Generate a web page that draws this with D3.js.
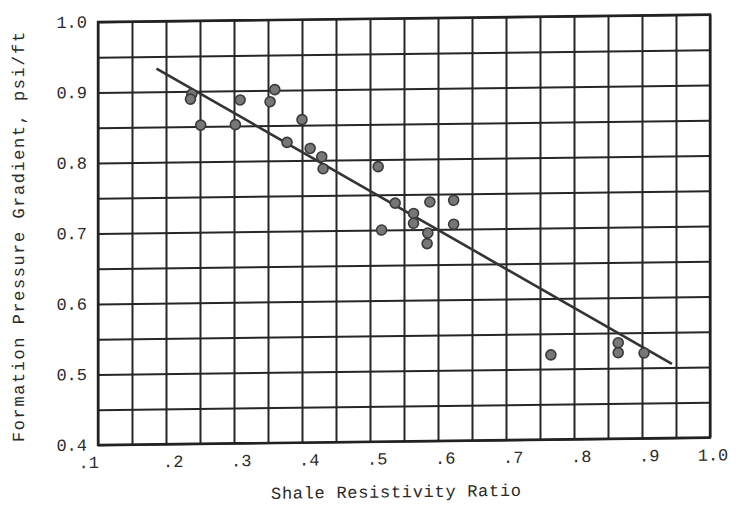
<!DOCTYPE html>
<html>
<head>
<meta charset="utf-8">
<script src="https://cdn.jsdelivr.net/npm/d3@7"></script>
<style>
  body { margin: 0; background: #fff; }
  text { font-family: "Liberation Mono", "DejaVu Sans Mono", monospace; fill: #2a2a2a; }
</style>
</head>
<body>
<div id="chart"></div>
<script>
// values
const ratio =    [0.238, 0.236, 0.251, 0.309, 0.302, 0.360, 0.353, 0.400, 0.378, 0.412, 0.429, 0.431,
                  0.512, 0.517, 0.537, 0.564, 0.564, 0.588, 0.585, 0.584, 0.623, 0.623,
                  0.766, 0.865, 0.865, 0.903];
const gradient = [0.896, 0.889, 0.852, 0.887, 0.852, 0.901, 0.884, 0.858, 0.826, 0.817, 0.805, 0.788,
                  0.790, 0.700, 0.738, 0.723, 0.709, 0.739, 0.695, 0.680, 0.741, 0.707,
                  0.520, 0.536, 0.522, 0.521];
const trendX = [0.186, 0.944];
const trendY = [0.933, 0.505];

const xTicks = [0.1, 0.2, 0.3, 0.4, 0.5, 0.6, 0.7, 0.8, 0.9, 1.0];
const xTickLabels = [".1", ".2", ".3", ".4", ".5", ".6", ".7", ".8", ".9", "1.0"];
const yTicks = [0.4, 0.5, 0.6, 0.7, 0.8, 0.9, 1.0];
const yTickLabels = ["0.4", "0.5", "0.6", "0.7", "0.8", "0.9", "1.0"];
const xGrid = d3.range(0.1, 1.0001, 0.05);
const yGrid = d3.range(0.4, 1.0001, 0.05);

const W = 747, H = 506;
const plotLeft = 98, plotRight = 710, plotTop = 22, plotBottom = 445;

const svg = d3.select("#chart").append("svg")
  .attr("width", W)
  .attr("height", H);

// the scan is slightly tilted, right side higher
const g = svg.append("g")
  .attr("transform", "translate(0,1.2) skewY(-0.7)");

const x = d3.scaleLinear().domain([0.1, 1.0]).range([plotLeft, plotRight]);
const y = d3.scaleLinear().domain([0.4, 1.0]).range([plotBottom, plotTop]);

// grid
g.append("g")
  .attr("transform", "translate(0," + plotBottom + ")")
  .call(d3.axisBottom(x).tickValues(xGrid).tickSize(-(plotBottom - plotTop)).tickFormat(""))
  .call(s => s.select(".domain").remove())
  .selectAll("line").attr("stroke", "#262626").attr("stroke-width", 2);

g.append("g")
  .attr("transform", "translate(" + plotLeft + ",0)")
  .call(d3.axisLeft(y).tickValues(yGrid).tickSize(-(plotRight - plotLeft)).tickFormat(""))
  .call(s => s.select(".domain").remove())
  .selectAll("line").attr("stroke", "#262626").attr("stroke-width", 2);

g.append("rect")
  .attr("x", plotLeft).attr("y", plotTop)
  .attr("width", plotRight - plotLeft).attr("height", plotBottom - plotTop)
  .attr("fill", "none").attr("stroke", "#222").attr("stroke-width", 2.4);

// tick labels
g.selectAll(".xlab")
  .data(xTicks)
  .enter()
  .append("text")
  .attr("class", "xlab")
  .attr("x", (d, i) => i == 0 ? x(d) + 1 : (i == xTicks.length - 1 ? x(d) + 3 : x(d) - 3))
  .attr("y", plotBottom + 23)
  .attr("text-anchor", (d, i) => i == 0 ? "end" : (i == xTicks.length - 1 ? "middle" : "start"))
  .attr("font-size", 17)
  .text((d, i) => xTickLabels[i]);

g.selectAll(".ylab")
  .data(yTicks)
  .enter()
  .append("text")
  .attr("class", "ylab")
  .attr("x", plotLeft - 11)
  .attr("y", d => y(d))
  .attr("dy", "0.32em")
  .attr("text-anchor", "end")
  .attr("font-size", 17)
  .text((d, i) => yTickLabels[i]);

// axis titles
g.append("text")
  .attr("x", 396)
  .attr("y", 501)
  .attr("text-anchor", "middle")
  .attr("font-size", 17)
  .attr("textLength", 250)
  .attr("lengthAdjust", "spacing")
  .text("Shale Resistivity Ratio");

g.append("text")
  .attr("transform", "translate(24,236) rotate(-90)")
  .attr("text-anchor", "middle")
  .attr("font-size", 17)
  .attr("textLength", 410)
  .attr("lengthAdjust", "spacing")
  .text("Formation Pressure Gradient, psi/ft");

// trend line
const line = d3.line()
  .x(d => x(d[0]))
  .y(d => y(d[1]));

g.append("path")
  .datum(d3.zip(trendX, trendY))
  .attr("d", line)
  .attr("fill", "none")
  .attr("stroke", "#333")
  .attr("stroke-width", 2.6);

// points
g.selectAll(".pt")
  .data(d3.zip(ratio, gradient))
  .enter()
  .append("circle")
  .attr("class", "pt")
  .attr("cx", d => x(d[0]))
  .attr("cy", d => y(d[1]))
  .attr("r", 5)
  .attr("fill", "#777")
  .attr("stroke", "#3a3a3a")
  .attr("stroke-width", 1.6);
</script>
</body>
</html>
